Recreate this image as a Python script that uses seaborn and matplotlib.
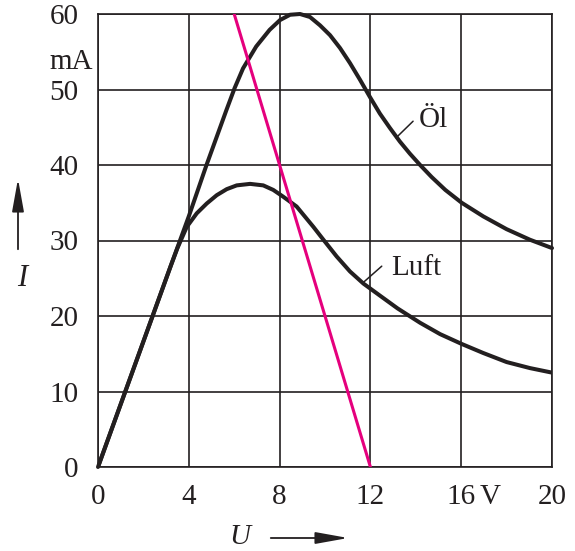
import matplotlib
matplotlib.use("Agg")
import matplotlib.pyplot as plt
import seaborn as sns

# U in V, I in mA
u_oel = [0, 3.2, 4.0, 4.78, 5.66, 6.02, 6.39, 6.97, 7.56, 8.02, 8.46, 8.9, 9.34,
         9.78, 10.22, 10.66, 11.1, 11.54, 11.98, 12.42, 12.86, 13.3, 13.74, 14.19,
         14.7, 15.3, 16.02, 16.97, 18.0, 19.03, 20.0]
i_oel = [0, 26.6, 33.2, 40.0, 47.3, 50.2, 52.8, 55.7, 57.9, 59.2, 59.9, 60.0, 59.6,
         58.5, 57.2, 55.5, 53.5, 51.3, 49.0, 46.8, 44.9, 43.1, 41.5, 40.0,
         38.4, 36.7, 35.0, 33.2, 31.5, 30.1, 29.0]

u_luft = [0, 3.2, 3.5, 3.91, 4.35, 4.79, 5.23, 5.67, 6.11, 6.7, 7.28, 7.72, 8.16,
          8.75, 9.49, 9.93, 10.51, 11.1, 11.69, 12.42, 13.2, 14.19, 15.07, 16.02,
          16.97, 18.0, 19.03, 20.0]
i_luft = [0, 26.6, 29.0, 31.8, 33.6, 34.9, 36.0, 36.8, 37.3, 37.5, 37.3, 36.7, 35.8,
          34.5, 31.8, 30.1, 27.9, 25.9, 24.3, 22.7, 21.0, 19.1, 17.6, 16.3,
          15.1, 13.9, 13.1, 12.5]

# load line
u_last = [6, 12]
i_last = [60, 0]

x_ticks = [0, 4, 8, 12, 16, 20]
x_labels = ["0", "4", "8", "12", "16", "20"]
y_ticks = [0, 10, 20, 30, 40, 50, 60]

ink = "#231f20"
magenta = "#e5007d"

sns.set_style("white")
plt.rcParams["font.family"] = ["Liberation Serif", "DejaVu Serif"]

fig = plt.figure(figsize=(5.75, 5.51), dpi=100)
ax = fig.add_axes([98 / 575, 1 - 467 / 551, 454 / 575, 453 / 551])

line_kw = dict(estimator=None, sort=False, solid_joinstyle="round", solid_capstyle="round")
sns.lineplot(x=u_oel, y=i_oel, ax=ax, color=ink, lw=2.9, clip_on=False, zorder=3, **line_kw)
sns.lineplot(x=u_luft, y=i_luft, ax=ax, color=ink, lw=2.9, zorder=3, **line_kw)
sns.lineplot(x=u_last, y=i_last, ax=ax, color=magenta, lw=2.2, zorder=4,
             estimator=None, sort=False)

ax.set_xlim(0, 20)
ax.set_ylim(0, 60)
ax.set_xticks(x_ticks, labels=x_labels)
ax.set_yticks(y_ticks)
ax.set_yticks([54], labels=["mA"], minor=True)
ax.tick_params(axis="both", which="both", length=0, labelsize=21, colors=ink)
ax.tick_params(axis="x", pad=12)
ax.tick_params(axis="y", pad=14)
ax.grid(True, which="major", color=ink, lw=1.2)
for s in ax.spines.values():
    s.set_color(ink)
    s.set_linewidth(1.2)
ax.set_xlabel("")
ax.set_ylabel("")

# unit after the 16 tick
ax.annotate("V", xy=(16, 0), xycoords="data", xytext=(13.5, -12), textcoords="offset points",
            ha="left", va="top", fontsize=21, color=ink)

# curve labels with leader lines
ax.plot([13.13, 13.88], [43.6, 45.8], color=ink, lw=1.1)
ax.text(14.15, 46.0, "Öl", fontsize=21, color=ink, va="center", ha="left")
ax.plot([11.67, 12.5], [24.4, 26.6], color=ink, lw=1.1)
ax.text(12.9, 26.3, "Luft", fontsize=21, color=ink, va="center", ha="left")

# axis names with arrows
fig.text(22 / 575, 1 - 278 / 551, "I", fontsize=22, style="italic", color=ink,
         ha="center", va="center")
ax.annotate("", xy=(18, 551 - 176), xycoords="figure pixels",
            xytext=(18, 551 - 252), textcoords="figure pixels",
            arrowprops=dict(arrowstyle="-|>,head_length=1.0,head_width=0.18",
                            mutation_scale=20, lw=1.3, color=ink))
fig.text(240 / 575, 1 - 537 / 551, "U", fontsize=21, style="italic", color=ink,
         ha="center", va="center")
ax.annotate("", xy=(351, 551 - 538), xycoords="figure pixels",
            xytext=(268, 551 - 538), textcoords="figure pixels",
            arrowprops=dict(arrowstyle="-|>,head_length=1.0,head_width=0.18",
                            mutation_scale=20, lw=1.3, color=ink))

fig.savefig("out.png", dpi=100)
